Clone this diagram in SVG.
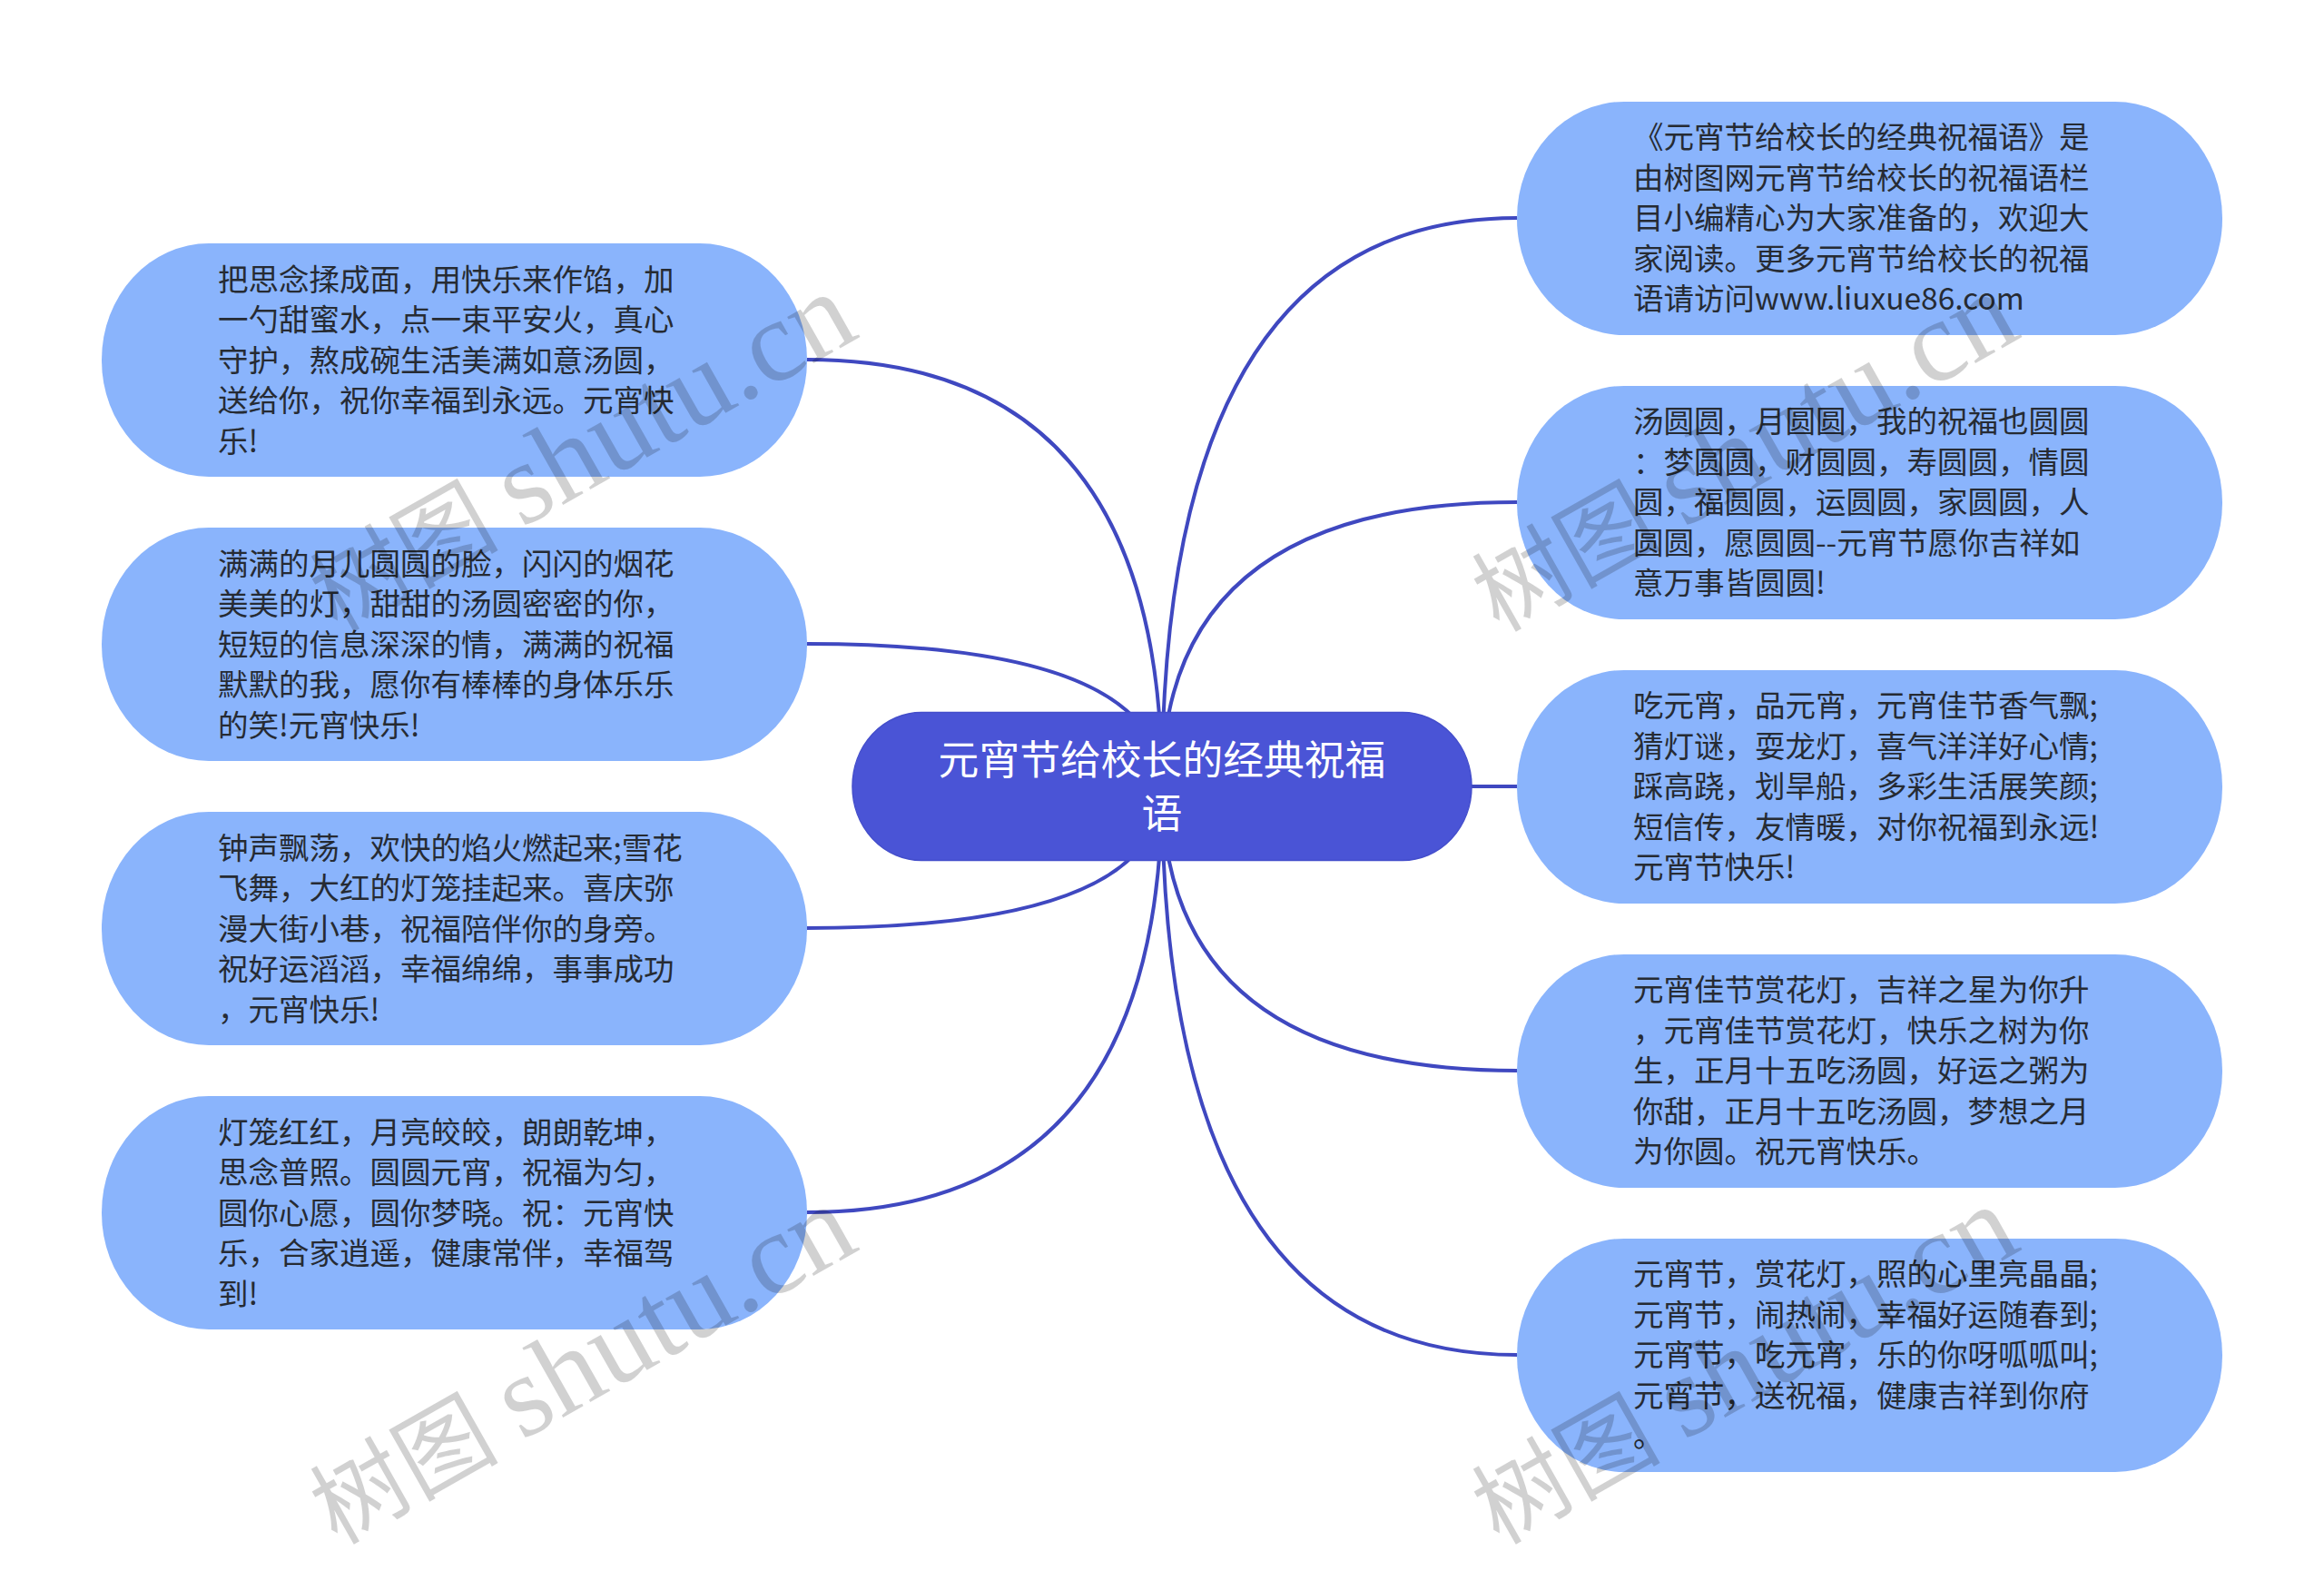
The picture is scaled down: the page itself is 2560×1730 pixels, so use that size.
<svg xmlns="http://www.w3.org/2000/svg" width="2560" height="1730" viewBox="0 0 2560 1730">
<style>
.bg{fill:#fff}
.link{fill:none;stroke:#3f48c0;stroke-width:4}
.leaf{fill:#8ab4fc}
.root{fill:#4a54d6;stroke:#444ecb;stroke-width:1.5}
.t{font-family:"Noto Sans CJK SC","Noto Sans",sans-serif;font-size:33.5px;fill:#262b33}
.rt{font-family:"Noto Sans CJK SC","Noto Sans",sans-serif;font-size:44.8px;fill:#fff;text-anchor:middle}
.wm{font-family:"Liberation Serif","Noto Sans CJK SC",serif;font-size:104px;fill:#000;fill-opacity:.18}
.wl{font-size:128px}
</style>
<rect class="bg" width="2560" height="1730"/>
<g id="connectors">
<path class="link" d="M1280 866Q1280 396 889 396"/>
<path class="link" d="M1280 866Q1280 709 889 709"/>
<path class="link" d="M1280 866Q1280 1022 889 1022"/>
<path class="link" d="M1280 866Q1280 1335 889 1335"/>
<path class="link" d="M1280 866Q1280 240 1671 240"/>
<path class="link" d="M1280 866Q1280 553 1671 553"/>
<path class="link" d="M1280 866L1671 866"/>
<path class="link" d="M1280 866Q1280 1179 1671 1179"/>
<path class="link" d="M1280 866Q1280 1492 1671 1492"/>
</g>
<g id="root"><rect class="root" x="939" y="784.5" width="682" height="163" rx="76" ry="81"/>
<text class="rt" x="1280"><tspan x="1280" y="853">元宵节给校长的经典祝福</tspan><tspan x="1280" y="911.5">语</tspan></text></g>
<g id="n1"><rect class="leaf" x="1671" y="112" width="777" height="257" rx="118" ry="128"/>
<text class="t"><tspan x="1799" y="163">《元宵节给校长的经典祝福语》是</tspan><tspan x="1799" y="207.6">由树图网元宵节给校长的祝福语栏</tspan><tspan x="1799" y="252.2">目小编精心为大家准备的，欢迎大</tspan><tspan x="1799" y="296.8">家阅读。更多元宵节给校长的祝福</tspan><tspan x="1799" y="341.4">语请访问www.liuxue86.com</tspan></text></g>
<g id="n2"><rect class="leaf" x="1671" y="425" width="777" height="257" rx="118" ry="128"/>
<text class="t"><tspan x="1799" y="476">汤圆圆，月圆圆，我的祝福也圆圆</tspan><tspan x="1799" y="520.6">：梦圆圆，财圆圆，寿圆圆，情圆</tspan><tspan x="1799" y="565.2">圆，福圆圆，运圆圆，家圆圆，人</tspan><tspan x="1799" y="609.8">圆圆，愿圆圆--元宵节愿你吉祥如</tspan><tspan x="1799" y="654.4">意万事皆圆圆!</tspan></text></g>
<g id="n3"><rect class="leaf" x="1671" y="738" width="777" height="257" rx="118" ry="128"/>
<text class="t"><tspan x="1799" y="789">吃元宵，品元宵，元宵佳节香气飘;</tspan><tspan x="1799" y="833.6">猜灯谜，耍龙灯，喜气洋洋好心情;</tspan><tspan x="1799" y="878.2">踩高跷，划旱船，多彩生活展笑颜;</tspan><tspan x="1799" y="922.8">短信传，友情暖，对你祝福到永远!</tspan><tspan x="1799" y="967.4">元宵节快乐!</tspan></text></g>
<g id="n4"><rect class="leaf" x="1671" y="1051" width="777" height="257" rx="118" ry="128"/>
<text class="t"><tspan x="1799" y="1102">元宵佳节赏花灯，吉祥之星为你升</tspan><tspan x="1799" y="1146.6">，元宵佳节赏花灯，快乐之树为你</tspan><tspan x="1799" y="1191.2">生，正月十五吃汤圆，好运之粥为</tspan><tspan x="1799" y="1235.8">你甜，正月十五吃汤圆，梦想之月</tspan><tspan x="1799" y="1280.4">为你圆。祝元宵快乐。</tspan></text></g>
<g id="n5"><rect class="leaf" x="1671" y="1364" width="777" height="257" rx="118" ry="128"/>
<text class="t"><tspan x="1799" y="1415">元宵节，赏花灯，照的心里亮晶晶;</tspan><tspan x="1799" y="1459.6">元宵节，闹热闹，幸福好运随春到;</tspan><tspan x="1799" y="1504.2">元宵节，吃元宵，乐的你呀呱呱叫;</tspan><tspan x="1799" y="1548.8">元宵节，送祝福，健康吉祥到你府</tspan><tspan x="1799" y="1593.4">。</tspan></text></g>
<g id="n6"><rect class="leaf" x="112" y="268" width="777" height="257" rx="118" ry="128"/>
<text class="t"><tspan x="240" y="319.5">把思念揉成面，用快乐来作馅，加</tspan><tspan x="240" y="364.1">一勺甜蜜水，点一束平安火，真心</tspan><tspan x="240" y="408.7">守护，熬成碗生活美满如意汤圆，</tspan><tspan x="240" y="453.3">送给你，祝你幸福到永远。元宵快</tspan><tspan x="240" y="497.9">乐!</tspan></text></g>
<g id="n7"><rect class="leaf" x="112" y="581" width="777" height="257" rx="118" ry="128"/>
<text class="t"><tspan x="240" y="632.5">满满的月儿圆圆的脸，闪闪的烟花</tspan><tspan x="240" y="677.1">美美的灯，甜甜的汤圆密密的你，</tspan><tspan x="240" y="721.7">短短的信息深深的情，满满的祝福</tspan><tspan x="240" y="766.3">默默的我，愿你有棒棒的身体乐乐</tspan><tspan x="240" y="810.9">的笑!元宵快乐!</tspan></text></g>
<g id="n8"><rect class="leaf" x="112" y="894" width="777" height="257" rx="118" ry="128"/>
<text class="t"><tspan x="240" y="945.5">钟声飘荡，欢快的焰火燃起来;雪花</tspan><tspan x="240" y="990.1">飞舞，大红的灯笼挂起来。喜庆弥</tspan><tspan x="240" y="1034.7">漫大街小巷，祝福陪伴你的身旁。</tspan><tspan x="240" y="1079.3">祝好运滔滔，幸福绵绵，事事成功</tspan><tspan x="240" y="1123.9">，元宵快乐!</tspan></text></g>
<g id="n9"><rect class="leaf" x="112" y="1207" width="777" height="257" rx="118" ry="128"/>
<text class="t"><tspan x="240" y="1258.5">灯笼红红，月亮皎皎，朗朗乾坤，</tspan><tspan x="240" y="1303.1">思念普照。圆圆元宵，祝福为匀，</tspan><tspan x="240" y="1347.7">圆你心愿，圆你梦晓。祝：元宵快</tspan><tspan x="240" y="1392.3">乐，合家逍遥，健康常伴，幸福驾</tspan><tspan x="240" y="1436.9">到!</tspan></text></g>
<g id="watermarks">
<text class="wm" transform="translate(371 697) rotate(-29.5)">树图 <tspan class="wl">shutu.cn</tspan></text>
<text class="wm" transform="translate(371 1702) rotate(-29.5)">树图 <tspan class="wl">shutu.cn</tspan></text>
<text class="wm" transform="translate(1651 697) rotate(-29.5)">树图 <tspan class="wl">shutu.cn</tspan></text>
<text class="wm" transform="translate(1651 1702) rotate(-29.5)">树图 <tspan class="wl">shutu.cn</tspan></text>
</g>
</svg>
